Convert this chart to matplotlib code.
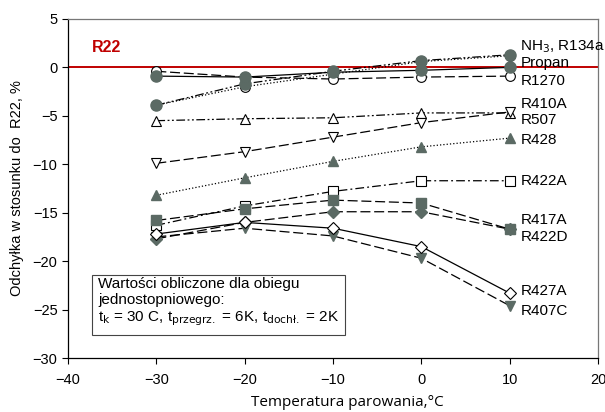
import matplotlib
matplotlib.use("Agg")
import matplotlib.pyplot as plt

plt.rcParams['font.family'] = ['Liberation Sans', 'DejaVu Sans']

temps = [-30, -20, -10, 0, 10]

nh3 = [-3.9, -1.7, -0.4, 0.7, 1.3]
r134a = [-3.9, -2.0, -0.7, 0.6, 1.2]
propan = [-0.9, -1.0, -0.5, -0.3, 0.0]
r1270 = [-0.4, -1.0, -1.2, -1.0, -0.9]
r410a = [-5.5, -5.3, -5.2, -4.7, -4.7]
r507 = [-9.9, -8.7, -7.2, -5.7, -4.6]
r428 = [-13.2, -11.4, -9.7, -8.2, -7.3]
r422a = [-16.3, -14.3, -12.8, -11.7, -11.7]
r417a = [-15.8, -14.6, -13.7, -14.0, -16.7]
r422d = [-17.7, -16.0, -14.9, -14.9, -16.7]
r427a = [-17.2, -16.0, -16.6, -18.5, -23.3]
r407c = [-17.5, -16.6, -17.4, -19.7, -24.6]

labels = ["NH$_3$, R134a", "Propan", "R1270", "R410A", "R507", "R428",
          "R422A", "R417A", "R422D", "R427A", "R407C"]
label_y = [2.1, 0.5, -1.4, -3.8, -5.4, -7.5, -11.7, -15.8, -17.5, -23.1, -25.1]

grey = '#5b6a64'
dash_dotdot = (0, (7, 2, 1.5, 2, 1.5, 2))
dash_dot = (0, (7, 2.5, 1.5, 2.5))
long_dash = (0, (8, 3))

fig = plt.figure(figsize=(6.05, 4.12), dpi=100)
ax = fig.add_axes([0.1124, 0.131, 0.876, 0.823])

ax.axhline(0, color='#c00000', lw=1.4, zorder=1)

kw = dict(color='black', lw=0.9, ms=7, mec='black', mew=0.8, zorder=3)
gkw = dict(color='black', lw=0.9, mec=grey, zorder=3)
ax.plot(temps, r134a, linestyle=':', marker='o', mfc='white', **kw)
ax.plot(temps, nh3, linestyle=dash_dotdot, marker='o', mfc=grey, ms=8, **gkw)
ax.plot(temps, r1270, linestyle=long_dash, marker='o', mfc='white', **kw)
ax.plot(temps, propan, linestyle='-', marker='o', mfc=grey, ms=8, **gkw)
ax.plot(temps, r410a, linestyle=dash_dotdot, marker='^', mfc='white', **kw)
ax.plot(temps, r507, linestyle=long_dash, marker='v', mfc='white', **kw)
ax.plot(temps, r428, linestyle=':', marker='^', mfc=grey, ms=7, **gkw)
ax.plot(temps, r422a, linestyle=dash_dot, marker='s', mfc='white', **kw)
ax.plot(temps, r417a, linestyle=long_dash, marker='s', mfc=grey, ms=7, **gkw)
ax.plot(temps, r422d, linestyle=long_dash, marker='D', mfc=grey, ms=6.5, **gkw)
ax.plot(temps, r407c, linestyle=long_dash, marker='v', mfc=grey, ms=7.5, **gkw)
ax.plot(temps, r427a, linestyle='-', marker='D', mfc='white', color='black', lw=0.9, ms=6.5,
        mec='black', mew=0.8, zorder=4)

for lab, yv in zip(labels, label_y):
    ax.text(11.2, yv, lab, fontsize=11, va='center', ha='left', clip_on=False)

ax.text(-37.3, 2.1, "R22", color='#c00000', fontsize=11.5, fontweight='bold', va='center')

ax.text(-36.6, -24.3,
        "Wartości obliczone dla obiegu\njednostopniowego:\n"
        "t$_\\mathrm{k}$ = 30 C, t$_\\mathrm{przegrz.}$ = 6K, t$_\\mathrm{dochł.}$ = 2K",
        fontsize=11, va='center', ha='left', linespacing=1.2,
        bbox=dict(boxstyle='square,pad=0.4', fc='white', ec='#444444', lw=0.8), zorder=5)

ax.set_xlim(-40, 20)
ax.set_ylim(-30, 5)
ax.set_xticks(range(-40, 21, 10))
ax.set_yticks(range(-30, 6, 5))
ax.tick_params(direction='out', length=4, width=0.8, labelsize=10.5)
ax.tick_params(axis='x', pad=7)
for s in ax.spines.values():
    s.set_linewidth(0.9)
for s in ['top', 'right']:
    ax.spines[s].set_color('#777777')

fig.text(0.574, 0.006, "Temperatura parowania,°C", fontsize=11, family='Open Sans',
         ha='center', va='bottom')
ax.set_ylabel("Odchyłka w stosunku do  R22, %", fontsize=10.5, labelpad=6)

fig.savefig("out.png", dpi=100)
